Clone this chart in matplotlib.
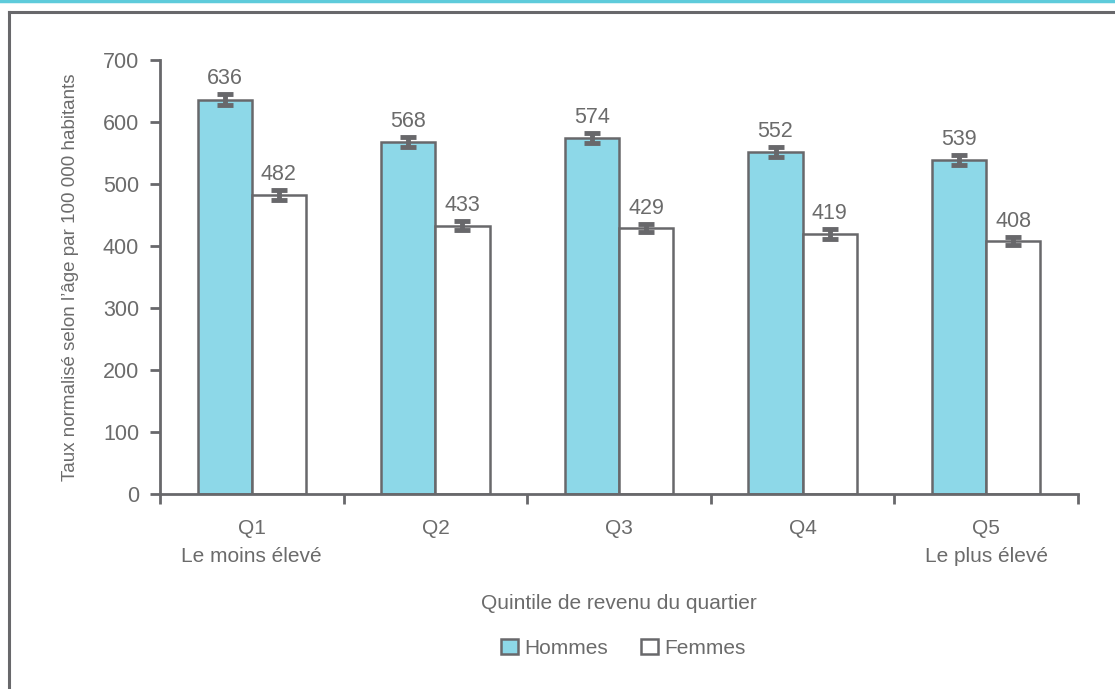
import numpy as np
import matplotlib
matplotlib.use('Agg')
import matplotlib.pyplot as plt
from matplotlib.lines import Line2D

### Data
categories = ['Q1\nLe moins élevé', 'Q2', 'Q3', 'Q4', 'Q5\nLe plus élevé']
hommes = [636, 568, 574, 552, 539]
femmes = [482, 433, 429, 419, 408]
err_hommes = [9, 8, 8, 8, 8]
err_femmes = [8, 7, 7, 8, 7]
yticks = [0, 100, 200, 300, 400, 500, 600, 700]

### Style
plt.rcParams['font.family'] = ['Liberation Sans', 'DejaVu Sans']
grey = '#68686b'
textc = '#6b6b6b'
blue = '#8dd8e8'
teal = '#5ecbdb'

fig = plt.figure(figsize=(11.15, 6.89), dpi=100)

### Frame lines
fig.add_artist(Line2D([0, 1], [0.9985, 0.9985], color=teal, lw=2.5))
fig.add_artist(Line2D([0.0085, 1], [0.9825, 0.9825], color=grey, lw=2.2))
fig.add_artist(Line2D([0.0085, 0.0085], [0, 0.9825], color=grey, lw=2.2))

ax = fig.add_axes([0.1435, 0.283, 0.8233, 0.630])

x = np.arange(len(categories))
w = 0.295
ax.bar(x - w/2, hommes, w, color=blue, edgecolor=grey, linewidth=1.8,
       label='Hommes', zorder=2)
ax.bar(x + w/2, femmes, w, color='white', edgecolor=grey, linewidth=1.8,
       label='Femmes', zorder=2)
ax.errorbar(x - w/2, hommes, yerr=err_hommes, fmt='none', ecolor=grey,
            elinewidth=3.5, capsize=5.5, capthick=3.5, zorder=3)
ax.errorbar(x + w/2, femmes, yerr=err_femmes, fmt='none', ecolor=grey,
            elinewidth=3.5, capsize=5.5, capthick=3.5, zorder=3)

for i in range(len(x)):
    ax.text(x[i] - w/2, hommes[i] + err_hommes[i] + 8, str(hommes[i]),
            ha='center', va='bottom', fontsize=15.5, color=textc)
    ax.text(x[i] + w/2, femmes[i] + err_femmes[i] + 8, str(femmes[i]),
            ha='center', va='bottom', fontsize=15.5, color=textc)

ax.set_xlim(-0.5, len(categories) - 0.5)
ax.set_ylim(0, 700)
ax.set_yticks(yticks)
ax.set_yticklabels([str(v) for v in yticks], fontsize=15.5, color=textc)

# category ticks at group boundaries, labels centred
ax.set_xticks(np.arange(len(categories) + 1) - 0.5)
ax.set_xticklabels([])
ax.set_xticks(x, minor=True)
ax.set_xticklabels(categories, minor=True, fontsize=15, color=textc,
                   linespacing=1.6)
ax.tick_params(axis='x', which='minor', length=0, pad=18)
ax.tick_params(axis='x', which='major', length=7, width=2, color=grey,
               direction='out')
ax.tick_params(axis='y', length=7, width=2, color=grey, direction='out',
               pad=8)

for s in ['top', 'right']:
    ax.spines[s].set_visible(False)
for s in ['left', 'bottom']:
    ax.spines[s].set_color(grey)
    ax.spines[s].set_linewidth(2)

ax.set_ylabel('Taux normalisé selon l\u2019âge par 100 000 habitants',
              fontsize=13.5, color=textc, labelpad=17)
ax.set_xlabel('Quintile de revenu du quartier', fontsize=15, color=textc,
              labelpad=20)

leg = ax.legend(loc='center', bbox_to_anchor=(0.505, -0.355), ncol=2,
                frameon=False, fontsize=15, handlelength=0.8,
                handleheight=0.8, handletextpad=0.3, columnspacing=1.6)
for t in leg.get_texts():
    t.set_color(textc)

plt.savefig('out.png', dpi=100)
